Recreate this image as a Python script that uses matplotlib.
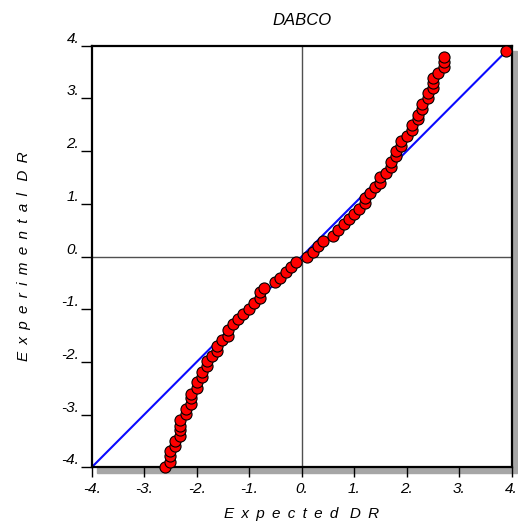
import matplotlib
matplotlib.use("Agg")
import matplotlib.pyplot as plt
from matplotlib.patches import Rectangle

plt.rcParams['font.family'] = ['Liberation Sans', 'DejaVu Sans']

# expected (x) vs experimental (y) DR values
expected = [-2.60, -2.51, -2.51, -2.51, -2.42, -2.42, -2.31, -2.31, -2.31, -2.31,
            -2.20, -2.20, -2.11, -2.11, -2.11, -2.00, -2.00, -1.90, -1.90, -1.80,
            -1.80, -1.71, -1.61, -1.61, -1.51, -1.41, -1.41, -1.31, -1.21, -1.11,
            -1.00, -0.91, -0.80, -0.80, -0.71, -0.51, -0.41, -0.30, -0.20, -0.11,
            0.10, 0.22, 0.31, 0.40, 0.60, 0.70, 0.81, 0.91, 1.00, 1.10,
            1.21, 1.21, 1.30, 1.40, 1.50, 1.50, 1.61, 1.70, 1.70, 1.80,
            1.80, 1.90, 1.90, 2.00, 2.10, 2.10, 2.21, 2.21, 2.30, 2.30,
            2.40, 2.40, 2.51, 2.51, 2.51, 2.60, 2.71, 2.71, 2.71, 3.90]
experimental = [-4.00, -3.89, -3.79, -3.69, -3.60, -3.50, -3.40, -3.30, -3.21, -3.10,
                -2.99, -2.89, -2.79, -2.69, -2.60, -2.49, -2.39, -2.28, -2.19, -2.08,
                -1.98, -1.89, -1.79, -1.70, -1.59, -1.50, -1.40, -1.29, -1.19, -1.10,
                -1.00, -0.89, -0.79, -0.68, -0.59, -0.49, -0.40, -0.30, -0.20, -0.10,
                0.00, 0.09, 0.20, 0.30, 0.39, 0.50, 0.61, 0.71, 0.81, 0.90,
                1.01, 1.11, 1.21, 1.31, 1.40, 1.50, 1.59, 1.70, 1.80, 1.91,
                2.00, 2.10, 2.19, 2.29, 2.40, 2.50, 2.60, 2.69, 2.80, 2.90,
                3.00, 3.10, 3.20, 3.29, 3.38, 3.48, 3.60, 3.69, 3.79, 3.89]
ref_line = [-4, 4]
ticks = [-4, -3, -2, -1, 0, 1, 2, 3, 4]
tick_labels = ['-4.', '-3.', '-2.', '-1.', '0.', '1.', '2.', '3.', '4.']


def spaced(text):
    # letter-spaced axis titles like the original
    return '  \u2009'.join(' \u2009'.join(w) for w in text.split())


W, H = 518, 527
fig = plt.figure(figsize=(W / 100, H / 100), dpi=100)
l, b, r, t = 91.7, 467.3, 511.7, 45.7
ax = fig.add_axes([l / W, 1 - b / H, (r - l) / W, (b - t) / H])

# drop shadow behind the frame
fig.add_artist(Rectangle(((l + 5) / W, 1 - (b + 5.5) / H), (r - l) / W, (b - t) / H,
                         transform=fig.transFigure, color='#a6a6a6', zorder=0))
ax.set_zorder(1)

ax.axhline(0, color='#505050', lw=1, zorder=1)
ax.axvline(0, color='#505050', lw=1, zorder=1)
ax.plot(ref_line, ref_line, color='#0a0aff', lw=1.5, zorder=2)
ax.plot(expected, experimental, 'o', ms=8, mfc='red', mec='black', mew=0.8,
        zorder=3, clip_on=False)

ax.set_xlim(-4, 4)
ax.set_ylim(-4, 4)
for s in ax.spines.values():
    s.set_linewidth(1.6)

ax.set_xticks(ticks)
ax.set_xticklabels(tick_labels, fontsize=11, style='italic')
ax.set_yticks(ticks)
ax.set_yticklabels(tick_labels, fontsize=11, style='italic')
ax.tick_params(axis='x', direction='out', length=7.5, width=1, pad=3)
ax.tick_params(axis='y', direction='out', length=8, width=1, pad=1)
for lab in ax.get_yticklabels():
    lab.set_verticalalignment('bottom')

ax.set_title('DABCO', fontsize=12, style='italic', pad=15)
ax.set_xlabel(spaced('Expected DR'), fontsize=11, style='italic', labelpad=8)
ax.set_ylabel(spaced('Experimental DR'), fontsize=11, style='italic', labelpad=22)

fig.savefig('out.png', dpi=100)
